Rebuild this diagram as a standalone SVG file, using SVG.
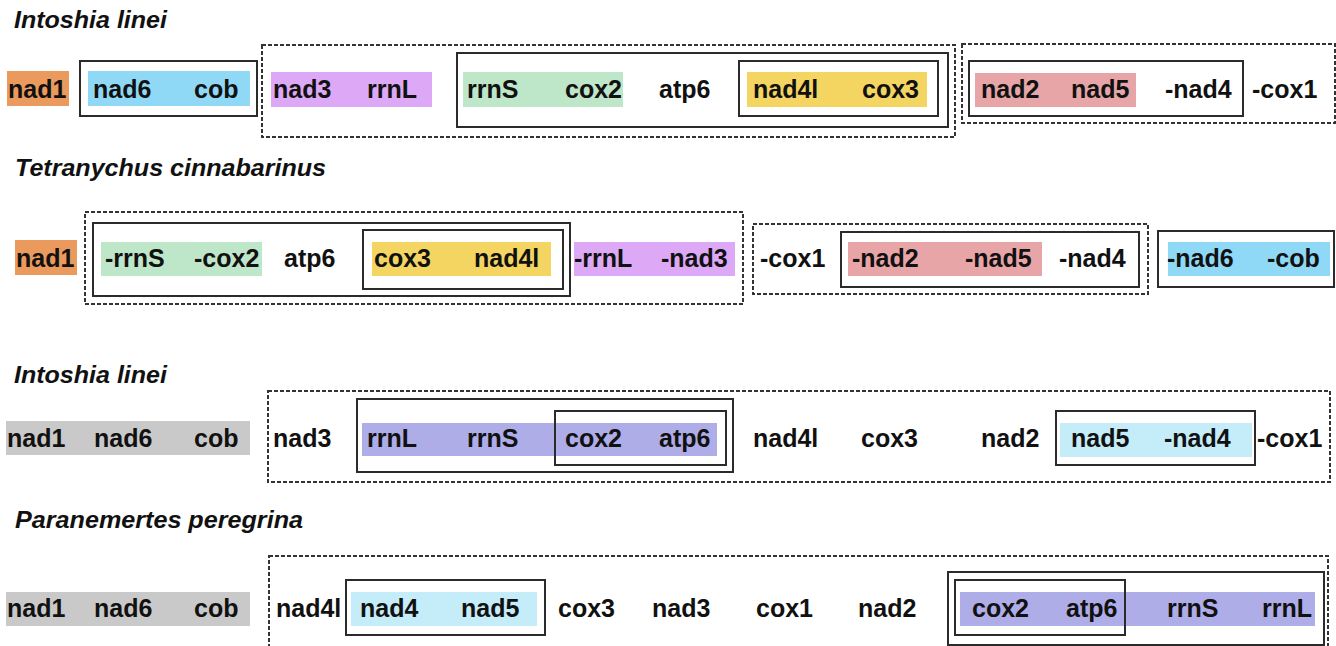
<svg xmlns="http://www.w3.org/2000/svg" width="1336" height="646" viewBox="0 0 1336 646">
<style>
.bg{fill:#fff}
.g{font-family:"Liberation Sans",Arial,sans-serif;font-weight:bold;font-size:25px;fill:#111}
.t{font-family:"Liberation Sans",Arial,sans-serif;font-weight:bold;font-style:italic;font-size:23px;fill:#111}
.s{fill:none;stroke:#2b2b2b;stroke-width:2}
.d{fill:none;stroke:#333;stroke-width:2;stroke-dasharray:4 2}
.or{fill:#EB9A5E}.bl{fill:#8FD9F7}.li{fill:#DDA8F6}.gr{fill:#BEE6C8}.ye{fill:#F5D562}.pk{fill:#E8A5A7}.gy{fill:#C9C9C9}.pw{fill:#AEADE8}.pb{fill:#C4ECF9}
</style>
<rect class="bg" x="0" y="0" width="1336" height="646"/>
<g id="titles">
<text class="t" x="14" y="28" textLength="153" lengthAdjust="spacingAndGlyphs">Intoshia linei</text>
<text class="t" x="15" y="176" textLength="311" lengthAdjust="spacingAndGlyphs">Tetranychus cinnabarinus</text>
<text class="t" x="14" y="383" textLength="153" lengthAdjust="spacingAndGlyphs">Intoshia linei</text>
<text class="t" x="15" y="528" textLength="288" lengthAdjust="spacingAndGlyphs">Paranemertes peregrina</text>
</g>
<g id="connectors"></g>
<!-- Row 1 -->
<g id="r1">
<g id="r1-nad1"><rect class="or" x="7" y="71" width="62" height="35"/><text class="g" x="8" y="98">nad1</text></g>
<g id="r1-box-nad6cob"><rect class="s" x="80" y="61" width="177" height="55"/><rect class="bl" x="88" y="71" width="162" height="35"/><text class="g" x="93" y="98">nad6</text><text class="g" x="194" y="98">cob</text></g>
<g id="r1-dash1"><rect class="d" x="262" y="45" width="693" height="92"/>
<rect class="li" x="271" y="72" width="161" height="35"/><text class="g" x="273" y="98">nad3</text><text class="g" x="367" y="98">rrnL</text>
<g id="r1-box-rrnS"><rect class="s" x="457" y="53" width="491" height="74"/>
<rect class="gr" x="463" y="72" width="160" height="35"/><text class="g" x="467" y="98">rrnS</text><text class="g" x="565" y="98">cox2</text>
<text class="g" x="659" y="98">atp6</text>
<g id="r1-box-nad4l"><rect class="s" x="739" y="61" width="199" height="55"/><rect class="ye" x="747" y="72" width="180" height="35"/><text class="g" x="753" y="98">nad4l</text><text class="g" x="862" y="98">cox3</text></g>
</g></g>
<g id="r1-dash2"><rect class="d" x="962" y="44" width="373" height="79"/>
<g id="r1-box-nad2"><rect class="s" x="969" y="61" width="274" height="55"/><rect class="pk" x="975" y="73" width="161" height="34"/><text class="g" x="981" y="98">nad2</text><text class="g" x="1071" y="98">nad5</text><text class="g" x="1165" y="98">-nad4</text></g>
<text class="g" x="1252" y="98">-cox1</text></g>
</g>
<!-- Row 2 -->
<g id="r2">
<g id="r2-nad1"><rect class="or" x="15" y="240" width="62" height="35"/><text class="g" x="16" y="267">nad1</text></g>
<g id="r2-dash1"><rect class="d" x="85" y="212" width="658" height="92"/>
<g id="r2-box-rrnS"><rect class="s" x="93" y="223" width="477" height="73"/>
<rect class="gr" x="101" y="242" width="161" height="34"/><text class="g" x="105" y="267">-rrnS</text><text class="g" x="194" y="267">-cox2</text>
<text class="g" x="284" y="267">atp6</text>
<g id="r2-box-cox3"><rect class="s" x="363" y="230" width="200" height="59"/><rect class="ye" x="372" y="242" width="179" height="34"/><text class="g" x="374" y="267">cox3</text><text class="g" x="474" y="267">nad4l</text></g>
</g>
<rect class="li" x="574" y="242" width="161" height="34"/><text class="g" x="574" y="267">-rrnL</text><text class="g" x="661" y="267">-nad3</text>
</g>
<g id="r2-dash2"><rect class="d" x="753" y="224" width="395" height="70"/>
<text class="g" x="760" y="267">-cox1</text>
<g id="r2-box-nad2"><rect class="s" x="841" y="232" width="298" height="55"/><rect class="pk" x="848" y="242" width="194" height="34"/><text class="g" x="852" y="267">-nad2</text><text class="g" x="965" y="267">-nad5</text><text class="g" x="1059" y="267">-nad4</text></g>
</g>
<g id="r2-box-nad6"><rect class="s" x="1158" y="231" width="176" height="56"/><rect class="bl" x="1168" y="242" width="162" height="34"/><text class="g" x="1167" y="267">-nad6</text><text class="g" x="1267" y="267">-cob</text></g>
</g>
<!-- Row 3 -->
<g id="r3">
<g id="r3-gray"><rect class="gy" x="6" y="421" width="244" height="34"/><text class="g" x="7" y="447">nad1</text><text class="g" x="94" y="447">nad6</text><text class="g" x="194" y="447">cob</text></g>
<g id="r3-dash"><rect class="d" x="268" y="391" width="1062" height="91"/>
<text class="g" x="273" y="447">nad3</text>
<g id="r3-box-rrnL"><rect class="s" x="357" y="399" width="376" height="73"/><rect class="pw" x="362" y="423" width="355" height="33"/>
<text class="g" x="367" y="447">rrnL</text><text class="g" x="467" y="447">rrnS</text>
<g id="r3-box-cox2"><rect class="s" x="555" y="411" width="171" height="54"/><text class="g" x="565" y="447">cox2</text><text class="g" x="659" y="447">atp6</text></g>
</g>
<text class="g" x="753" y="447">nad4l</text><text class="g" x="861" y="447">cox3</text><text class="g" x="981" y="447">nad2</text>
<g id="r3-box-nad5"><rect class="s" x="1056" y="411" width="199" height="54"/><rect class="pb" x="1060" y="423" width="192" height="34"/><text class="g" x="1071" y="447">nad5</text><text class="g" x="1164" y="447">-nad4</text></g>
<text class="g" x="1257" y="447">-cox1</text>
</g>
</g>
<!-- Row 4 -->
<g id="r4">
<g id="r4-gray"><rect class="gy" x="6" y="592" width="244" height="34"/><text class="g" x="7" y="617">nad1</text><text class="g" x="94" y="617">nad6</text><text class="g" x="194" y="617">cob</text></g>
<g id="r4-dash"><rect class="d" x="269" y="556" width="1059" height="100"/>
<text class="g" x="276" y="617">nad4l</text>
<g id="r4-box-nad4"><rect class="s" x="346" y="580" width="199" height="55"/><rect class="pb" x="351" y="592" width="186" height="34"/><text class="g" x="360" y="617">nad4</text><text class="g" x="461" y="617">nad5</text></g>
<text class="g" x="558" y="617">cox3</text><text class="g" x="652" y="617">nad3</text><text class="g" x="756" y="617">cox1</text><text class="g" x="858" y="617">nad2</text>
<g id="r4-box-cox2"><rect class="s" x="948" y="572" width="376" height="73"/><rect class="pw" x="960" y="592" width="355" height="34"/>
<g id="r4-box-cox2atp6"><rect class="s" x="955" y="580" width="170" height="55"/><text class="g" x="972" y="617">cox2</text><text class="g" x="1066" y="617">atp6</text></g>
<text class="g" x="1167" y="617">rrnS</text><text class="g" x="1262" y="617">rrnL</text>
</g>
</g>
</g>
</svg>
